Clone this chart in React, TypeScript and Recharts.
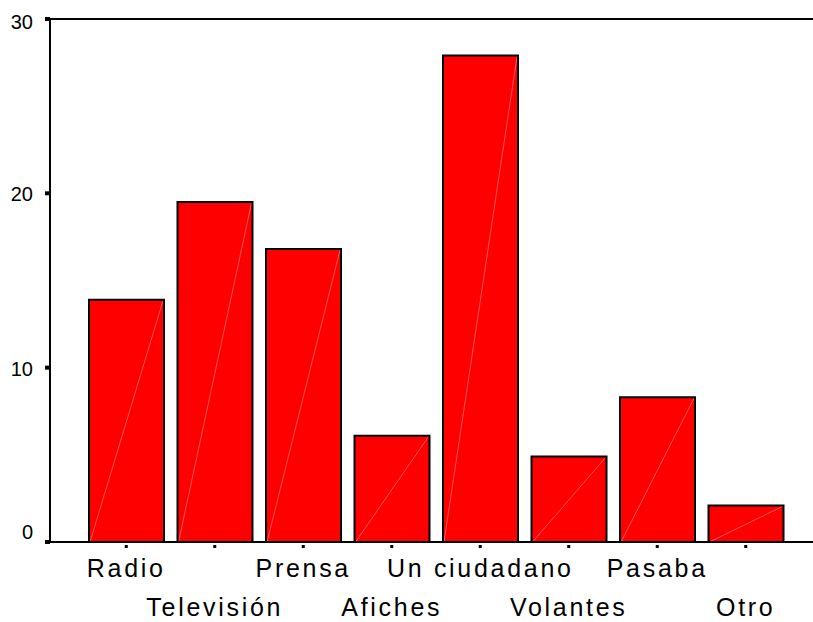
import { BarChart, Bar, XAxis, YAxis, ReferenceLine } from 'recharts'

const categories = ['Radio', 'Televisión', 'Prensa', 'Afiches', 'Un ciudadano', 'Volantes', 'Pasaba', 'Otro']
const percents = [13.9, 19.5, 16.8, 6.1, 27.9, 4.9, 8.3, 2.1]
const yTicks = [0, 10, 20, 30]

const data = categories.map((name, i) => ({ name, value: percents[i] }))

const font = '"Liberation Sans", Arial, sans-serif'

function RedBar(props: any) {
  const { x, y, width, height } = props
  if (!height) return null
  return (
    <g>
      <rect x={x} y={y} width={width} height={height} fill="#ff0000" />
      <line x1={x + 1} y1={y + height} x2={x + width - 1} y2={y + 1} stroke="#ff7070" strokeWidth={0.8} />
      <path
        d={`M${x},${y + height} L${x},${y} L${x + width},${y} L${x + width},${y + height}`}
        fill="none"
        stroke="#000"
        strokeWidth={2}
      />
    </g>
  )
}

function CatTick({ x, y, payload, index }: any) {
  const second = index % 2 === 1
  return (
    <g>
      <line x1={x} y1={y - 5} x2={x} y2={y - 2} stroke="#000" strokeWidth={3} />
      <text
        x={x}
        y={y + (second ? 66 : 27)}
        textAnchor="middle"
        fontSize={25}
        letterSpacing={2.7}
        fontFamily={font}
        fill="#000"
      >
        {payload.value}
      </text>
    </g>
  )
}

// SPSS-style label placement: 0 sits above its tick, 30 a bit below
function ValTick({ x, y, payload }: any) {
  const v = payload.value
  const shift = v === 0 ? -3 : v === 30 ? 10 : 8
  return (
    <text x={x - 10} y={y + shift} textAnchor="end" fontSize={20} fontFamily={font} fill="#000">
      {v}
    </text>
  )
}

export default function App() {
  return (
    <div style={{ position: 'absolute', left: 0, top: 0, background: '#fff' }}>
      <BarChart
        width={813}
        height={622}
        data={data}
        margin={{ top: 19, right: 0, left: 0, bottom: 0 }}
        barSize={75}
      >
        <XAxis
          dataKey="name"
          height={80}
          interval={0}
          padding={{ left: 32, right: 23 }}
          axisLine={{ stroke: '#000', strokeWidth: 2 }}
          tickLine={false}
          tick={<CatTick />}
        />
        <YAxis
          width={50}
          domain={[0, 30]}
          ticks={yTicks}
          interval={0}
          axisLine={{ stroke: '#000', strokeWidth: 2 }}
          tickLine={{ stroke: '#000', strokeWidth: 4 }}
          tickSize={5}
          tick={<ValTick />}
        />
        <ReferenceLine y={30} stroke="#000" strokeWidth={2} />
        <Bar dataKey="value" shape={<RedBar />} isAnimationActive={false} />
      </BarChart>
    </div>
  )
}
